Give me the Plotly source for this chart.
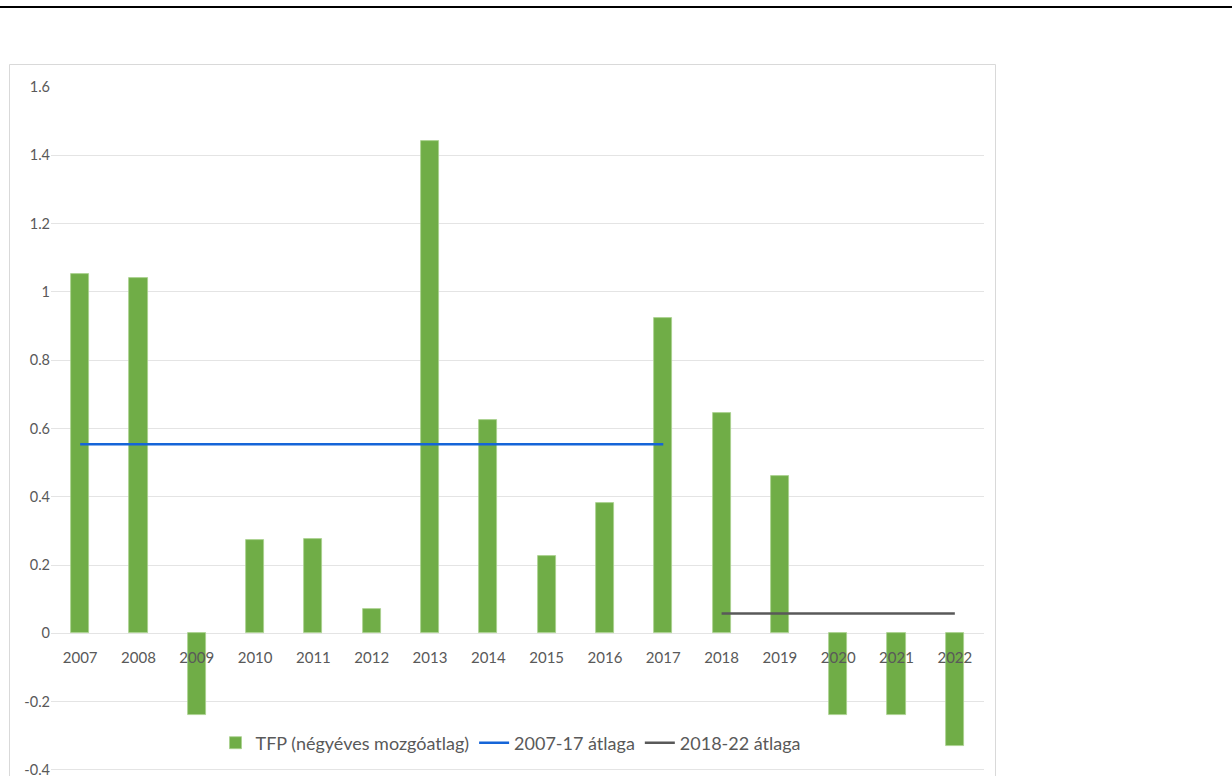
import plotly.graph_objects as go

# TFP, four-year moving average, by year
years = ["2007", "2008", "2009", "2010", "2011", "2012", "2013", "2014",
         "2015", "2016", "2017", "2018", "2019", "2020", "2021", "2022"]
tfp = [1.051, 1.041, -0.240, 0.274, 0.277, 0.070, 1.443, 0.626,
       0.226, 0.381, 0.923, 0.646, 0.460, -0.240, -0.240, -0.331]

# period averages
avg1_years = ["2007", "2017"]
avg1_values = [0.554, 0.554]
avg2_years = ["2018", "2022"]
avg2_values = [0.0585, 0.0585]

y_ticks = [-0.4, -0.2, 0, 0.2, 0.4, 0.6, 0.8, 1, 1.2, 1.4, 1.6]
y_tick_text = ["-0.4", "-0.2", "0", "0.2", "0.4", "0.6", "0.8", "1", "1.2", "1.4", "1.6"]

GREEN = "#70AD47"
BLUE = "#1565D8"
GREY = "#595959"
TEXT = "#595959"
FONT = "Lato, 'Open Sans', sans-serif"

Y_MIN, Y_MAX = -0.4176, 1.6

fig = go.Figure()
fig.add_trace(go.Bar(
    x=years, y=tfp, name="TFP (négyéves mozgóatlag)",
    marker=dict(color=GREEN, line=dict(color="#A9D18E", width=0.8)),
    width=0.31,
))
fig.add_trace(go.Scatter(
    x=avg1_years, y=avg1_values, mode="lines", name="2007-17 átlaga",
    line=dict(color=BLUE, width=2.5),
))
fig.add_trace(go.Scatter(
    x=avg2_years, y=avg2_values, mode="lines", name="2018-22 átlaga",
    line=dict(color=GREY, width=2.5),
))

# plot area in pixels: x 51..984, y 87..776
L, R, T, B = 51, 1232 - 984, 87, 0
W = 1232 - L - R
H = 776 - T - B

def px_x(px):
    return (px - L) / W

def px_y(py):
    return (776 - B - py) / H

fig.update_layout(
    width=1232, height=776,
    margin=dict(l=L, r=R, t=T, b=B),
    paper_bgcolor="white", plot_bgcolor="white",
    font=dict(family=FONT, color=TEXT, size=14),
    showlegend=True,
    legend=dict(
        orientation="h", x=px_x(511), xanchor="center",
        y=px_y(743), yanchor="middle",
        font=dict(size=18, color=TEXT, family=FONT),
        bgcolor="rgba(0,0,0,0)", itemwidth=30, tracegroupgap=0,
    ),
    bargap=0.0,
    xaxis=dict(
        type="category", categoryorder="array", categoryarray=years,
        range=[-0.5, 15.5],
        anchor="free", position=(0 - Y_MIN) / (Y_MAX - Y_MIN),
        showline=False, showgrid=False, zeroline=False,
        ticks="outside", ticklen=11, tickcolor="rgba(0,0,0,0)",
        tickfont=dict(size=15, color=TEXT),
    ),
    yaxis=dict(
        range=[Y_MIN, Y_MAX], tickvals=y_ticks, ticktext=y_tick_text,
        showgrid=True, gridcolor="#E4E4E4", gridwidth=1,
        zeroline=True, zerolinecolor="#E4E4E4", zerolinewidth=1,
        showline=False, ticks="", ticklabelposition="outside",
        ticklabeloverflow="allow",
        tickfont=dict(size=14.5, color=TEXT),
        automargin=False,
    ),
    shapes=[
        # chart frame
        dict(type="rect", xref="paper", yref="paper",
             x0=px_x(9.5), x1=px_x(995.5), y0=px_y(800), y1=px_y(64.5),
             line=dict(color="#D9D9D9", width=1), layer="below"),
        # heading rule
        dict(type="line", xref="paper", yref="paper",
             x0=px_x(0), x1=px_x(1232), y0=px_y(7), y1=px_y(7),
             line=dict(color="black", width=2)),
    ],
)

fig.write_html("out.html")
